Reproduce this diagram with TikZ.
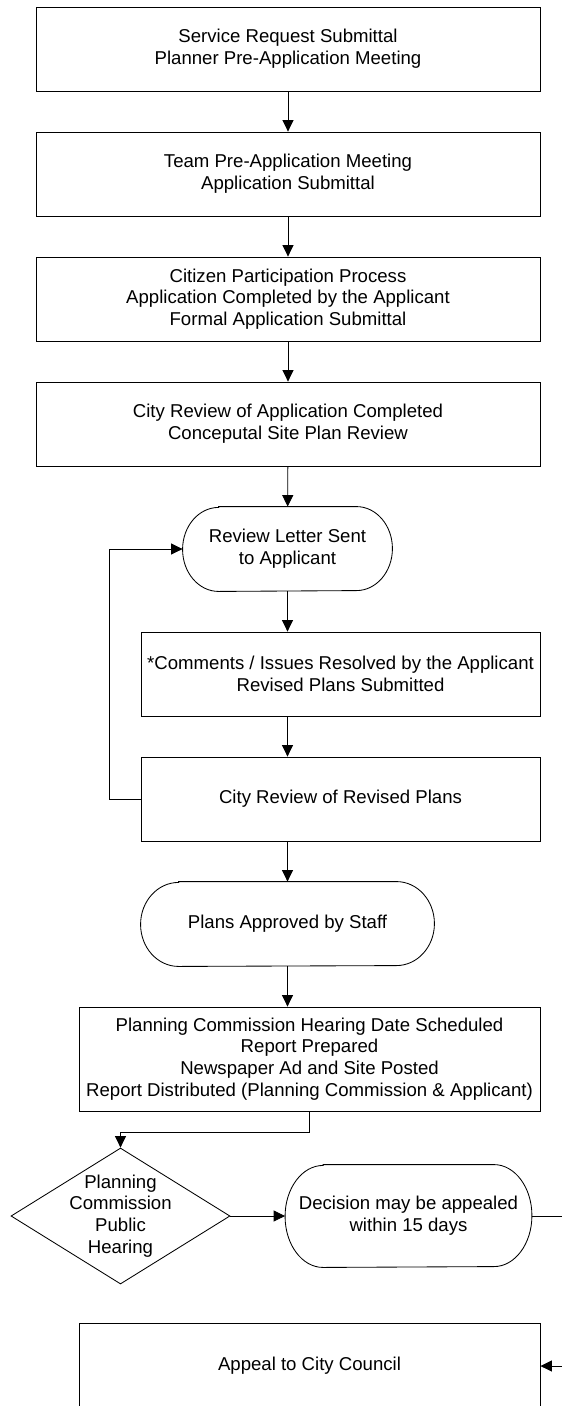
\documentclass[tikz,border=0pt]{standalone}
\usepackage{fontspec}
\setmainfont{Liberation Sans}
\usetikzlibrary{arrows.meta,shapes.geometric}
\tikzset{
  base/.style={font=\fontsize{18.6}{21.7}\selectfont, align=center, inner sep=2pt, line width=0.85pt},
  stepbox/.style={base, draw, rectangle},
  pill/.style={base, rectangle},
  conn/.style={line width=0.85pt, -{Triangle[length=11.5pt,width=11pt]}},
  plain/.style={line width=0.85pt}
}
\newcommand\pillpath[3]{%
  \draw[plain] ([xshift=#2]#1.north west) -- ([xshift=-#2]#1.north east)
    arc[start angle=90,end angle=-90,x radius=#2,y radius=#3]
    -- ([xshift=#2]#1.south west)
    arc[start angle=270,end angle=90,x radius=#2,y radius=#3] -- cycle;}
\begin{document}
\begin{tikzpicture}[x=1pt,y=-1pt]
\useasboundingbox[fill=white] (0,0) rectangle (562,1406);
\clip (0,0) rectangle (562,1406);

\node[stepbox, minimum width=504pt, minimum height=84pt] (b1) at (288,49)
  {Service Request Submittal\\Planner Pre-Application Meeting};
\node[stepbox, minimum width=504pt, minimum height=84pt] (b2) at (288,174)
  {Team Pre-Application Meeting\\Application Submittal};
\node[stepbox, minimum width=504pt, minimum height=84pt] (b3) at (288,299)
  {Citizen Participation Process\\Application Completed by the Applicant\\Formal Application Submittal};
\node[stepbox, minimum width=504pt, minimum height=84pt] (b4) at (288,424)
  {City Review of Application Completed\\Conceputal Site Plan Review};
\node[pill, minimum width=209pt, minimum height=84pt] (rl) at (287.5,549)
  {Review Letter Sent\\to Applicant};
\pillpath{rl}{36pt}{42pt}
\node[stepbox, minimum width=399pt, minimum height=84pt] (cm) at (340.5,674)
  {*Comments / Issues Resolved by the Applicant\\Revised Plans Submitted};
\node[stepbox, minimum width=399pt, minimum height=84pt] (cr) at (340.5,799)
  {City Review of Revised Plans};
\node[pill, minimum width=293pt, minimum height=84pt] (pa) at (287.5,924)
  {Plans Approved by Staff};
\pillpath{pa}{38pt}{42pt}
\node[stepbox, minimum width=461pt, minimum height=104pt] (pc) at (309.5,1059)
  {Planning Commission Hearing Date Scheduled\\Report Prepared\\Newspaper Ad and Site Posted\\Report Distributed (Planning Commission \& Applicant)};
\node[diamond, draw, line width=0.85pt, minimum width=219pt, minimum height=136pt, inner sep=0pt] (dia) at (120.5,1216) {};
\node[base] (diatxt) at (dia.center) {Planning\\Commission\\Public\\Hearing};
\node[pill, minimum width=246pt, minimum height=102pt] (dec) at (408.5,1216)
  {Decision may be appealed\\within 15 days};
\pillpath{dec}{38pt}{51pt}
\node[stepbox, minimum width=461pt, minimum height=86pt] (ap) at (309.5,1366)
  {Appeal to City Council};

\coordinate (outA) at (562,1216);
\coordinate (outB) at (562,1366);

\draw[conn] (b1) -- (b2);
\draw[conn] (b2) -- (b3);
\draw[conn] (b3) -- (b4);
\draw[conn] (b4) -- (rl);
\draw[conn] (rl.south) -- (rl.south |- cm.north);
\draw[conn] (rl.south |- cm.south) -- (rl.south |- cr.north);
\draw[conn] (rl.south |- cr.south) -- (pa.north);
\draw[conn] (cr.west) -- ++(-31,0) |- (rl.west);
\draw[conn] (pa.south) -- (pa.south |- pc.north);
\draw[conn] (pc.south) -- ++(0,21) -| (dia.north);
\draw[conn] (dia.east) -- (dec.west);
\draw[plain] (dec.east) -- (outA);
\draw[conn] (outB) -- (ap.east);
\end{tikzpicture}
\end{document}
